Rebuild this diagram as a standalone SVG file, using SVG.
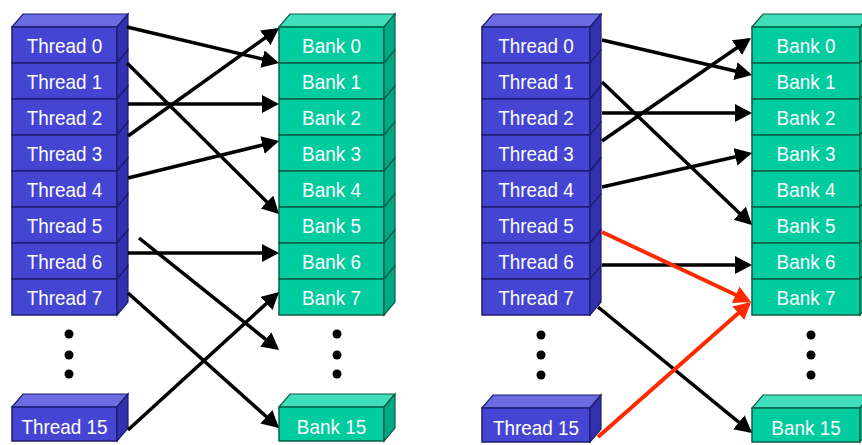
<svg xmlns="http://www.w3.org/2000/svg" width="862" height="445" viewBox="0 0 862 445">
<style>
.tf{fill:#4545D4;stroke:#1c1c6e;stroke-width:1.5}
.ts{fill:#3232AE;stroke:#1c1c6e;stroke-width:1.2}
.tt{fill:#6C6CE2;stroke:#1c1c6e;stroke-width:1.2}
.bf{fill:#00CCA0;stroke:#0a5e48;stroke-width:1.5}
.bs{fill:#00A883;stroke:#0a5e48;stroke-width:1.2}
.bt{fill:#40DEBB;stroke:#0a5e48;stroke-width:1.2}
.lbl{fill:#ffffff;font-family:"Liberation Sans",Arial,sans-serif;font-size:21px;text-anchor:middle}
.dot{fill:#000000}
.ln{stroke:#000000;stroke-width:3.5;fill:none;marker-end:url(#ah)}
.rl{stroke:#FF2A00;stroke-width:4;fill:none;marker-end:url(#ahr)}
</style>
<defs>
<marker id="ah" markerUnits="userSpaceOnUse" markerWidth="20" markerHeight="20" refX="14" refY="9" orient="auto"><path d="M0,0 L17,9 L0,18 z" fill="#000000"/></marker>
<marker id="ahr" markerUnits="userSpaceOnUse" markerWidth="20" markerHeight="20" refX="14" refY="9" orient="auto"><path d="M0,0 L17,9 L0,18 z" fill="#FF2A00"/></marker>
</defs>
<rect width="862" height="445" fill="#ffffff"/>

<!-- Left threads -->
<g id="thread-0"><polygon class="tt" points="12,27 23,14 128,14 117,27"/><rect class="tf" x="12" y="27" width="105" height="36"/><polygon class="ts" points="117,27 128,14 128,50 117,63"/><text class="lbl" transform="translate(64.5,52.5) scale(0.9,1)">Thread 0</text></g>
<g id="thread-1"><rect class="tf" x="12" y="63" width="105" height="36"/><polygon class="ts" points="117,63 128,50 128,86 117,99"/><text class="lbl" transform="translate(64.5,88.5) scale(0.9,1)">Thread 1</text></g>
<g id="thread-2"><rect class="tf" x="12" y="99" width="105" height="36"/><polygon class="ts" points="117,99 128,86 128,122 117,135"/><text class="lbl" transform="translate(64.5,124.5) scale(0.9,1)">Thread 2</text></g>
<g id="thread-3"><rect class="tf" x="12" y="135" width="105" height="36"/><polygon class="ts" points="117,135 128,122 128,158 117,171"/><text class="lbl" transform="translate(64.5,160.5) scale(0.9,1)">Thread 3</text></g>
<g id="thread-4"><rect class="tf" x="12" y="171" width="105" height="36"/><polygon class="ts" points="117,171 128,158 128,194 117,207"/><text class="lbl" transform="translate(64.5,196.5) scale(0.9,1)">Thread 4</text></g>
<g id="thread-5"><rect class="tf" x="12" y="207" width="105" height="36"/><polygon class="ts" points="117,207 128,194 128,230 117,243"/><text class="lbl" transform="translate(64.5,232.5) scale(0.9,1)">Thread 5</text></g>
<g id="thread-6"><rect class="tf" x="12" y="243" width="105" height="36"/><polygon class="ts" points="117,243 128,230 128,266 117,279"/><text class="lbl" transform="translate(64.5,268.5) scale(0.9,1)">Thread 6</text></g>
<g id="thread-7"><rect class="tf" x="12" y="279" width="105" height="36"/><polygon class="ts" points="117,279 128,266 128,302 117,315"/><text class="lbl" transform="translate(64.5,304.5) scale(0.9,1)">Thread 7</text></g>
<g id="thread-dots"><circle class="dot" cx="69" cy="334" r="4.5"/><circle class="dot" cx="69" cy="355" r="4.5"/><circle class="dot" cx="69" cy="374" r="4.5"/></g>
<g id="thread-15"><polygon class="tt" points="12,407 23,394 128,394 117,407"/><rect class="tf" x="12" y="407" width="105" height="34"/><polygon class="ts" points="117,407 128,394 128,428 117,441"/><text class="lbl" transform="translate(64.5,434) scale(0.9,1)">Thread 15</text></g>

<!-- Left banks -->
<g id="bank-0"><polygon class="bt" points="279,27 290,14 395,14 384,27"/><rect class="bf" x="279" y="27" width="105" height="36"/><polygon class="bs" points="384,27 395,14 395,50 384,63"/><text class="lbl" transform="translate(331.5,52.5) scale(0.9,1)">Bank 0</text></g>
<g id="bank-1"><rect class="bf" x="279" y="63" width="105" height="36"/><polygon class="bs" points="384,63 395,50 395,86 384,99"/><text class="lbl" transform="translate(331.5,88.5) scale(0.9,1)">Bank 1</text></g>
<g id="bank-2"><rect class="bf" x="279" y="99" width="105" height="36"/><polygon class="bs" points="384,99 395,86 395,122 384,135"/><text class="lbl" transform="translate(331.5,124.5) scale(0.9,1)">Bank 2</text></g>
<g id="bank-3"><rect class="bf" x="279" y="135" width="105" height="36"/><polygon class="bs" points="384,135 395,122 395,158 384,171"/><text class="lbl" transform="translate(331.5,160.5) scale(0.9,1)">Bank 3</text></g>
<g id="bank-4"><rect class="bf" x="279" y="171" width="105" height="36"/><polygon class="bs" points="384,171 395,158 395,194 384,207"/><text class="lbl" transform="translate(331.5,196.5) scale(0.9,1)">Bank 4</text></g>
<g id="bank-5"><rect class="bf" x="279" y="207" width="105" height="36"/><polygon class="bs" points="384,207 395,194 395,230 384,243"/><text class="lbl" transform="translate(331.5,232.5) scale(0.9,1)">Bank 5</text></g>
<g id="bank-6"><rect class="bf" x="279" y="243" width="105" height="36"/><polygon class="bs" points="384,243 395,230 395,266 384,279"/><text class="lbl" transform="translate(331.5,268.5) scale(0.9,1)">Bank 6</text></g>
<g id="bank-7"><rect class="bf" x="279" y="279" width="105" height="36"/><polygon class="bs" points="384,279 395,266 395,302 384,315"/><text class="lbl" transform="translate(331.5,304.5) scale(0.9,1)">Bank 7</text></g>
<g id="bank-dots"><circle class="dot" cx="337" cy="334" r="4.5"/><circle class="dot" cx="337" cy="355" r="4.5"/><circle class="dot" cx="337" cy="374" r="4.5"/></g>
<g id="bank-15"><polygon class="bt" points="279,407 290,394 395,394 384,407"/><rect class="bf" x="279" y="407" width="105" height="34"/><polygon class="bs" points="384,407 395,394 395,428 384,441"/><text class="lbl" transform="translate(331.5,434) scale(0.9,1)">Bank 15</text></g>

<!-- Right threads -->
<g id="r-thread-0"><polygon class="tt" points="482,27 493,14 601,14 590,27"/><rect class="tf" x="482" y="27" width="108" height="36"/><polygon class="ts" points="590,27 601,14 601,50 590,63"/><text class="lbl" transform="translate(536,52.5) scale(0.9,1)">Thread 0</text></g>
<g id="r-thread-1"><rect class="tf" x="482" y="63" width="108" height="36"/><polygon class="ts" points="590,63 601,50 601,86 590,99"/><text class="lbl" transform="translate(536,88.5) scale(0.9,1)">Thread 1</text></g>
<g id="r-thread-2"><rect class="tf" x="482" y="99" width="108" height="36"/><polygon class="ts" points="590,99 601,86 601,122 590,135"/><text class="lbl" transform="translate(536,124.5) scale(0.9,1)">Thread 2</text></g>
<g id="r-thread-3"><rect class="tf" x="482" y="135" width="108" height="36"/><polygon class="ts" points="590,135 601,122 601,158 590,171"/><text class="lbl" transform="translate(536,160.5) scale(0.9,1)">Thread 3</text></g>
<g id="r-thread-4"><rect class="tf" x="482" y="171" width="108" height="36"/><polygon class="ts" points="590,171 601,158 601,194 590,207"/><text class="lbl" transform="translate(536,196.5) scale(0.9,1)">Thread 4</text></g>
<g id="r-thread-5"><rect class="tf" x="482" y="207" width="108" height="36"/><polygon class="ts" points="590,207 601,194 601,230 590,243"/><text class="lbl" transform="translate(536,232.5) scale(0.9,1)">Thread 5</text></g>
<g id="r-thread-6"><rect class="tf" x="482" y="243" width="108" height="36"/><polygon class="ts" points="590,243 601,230 601,266 590,279"/><text class="lbl" transform="translate(536,268.5) scale(0.9,1)">Thread 6</text></g>
<g id="r-thread-7"><rect class="tf" x="482" y="279" width="108" height="36"/><polygon class="ts" points="590,279 601,266 601,302 590,315"/><text class="lbl" transform="translate(536,304.5) scale(0.9,1)">Thread 7</text></g>
<g id="r-thread-dots"><circle class="dot" cx="541" cy="335" r="4.5"/><circle class="dot" cx="541" cy="355" r="4.5"/><circle class="dot" cx="541" cy="375" r="4.5"/></g>
<g id="r-thread-15"><polygon class="tt" points="482,408 493,395 601,395 590,408"/><rect class="tf" x="482" y="408" width="108" height="34"/><polygon class="ts" points="590,408 601,395 601,429 590,442"/><text class="lbl" transform="translate(536,435) scale(0.9,1)">Thread 15</text></g>

<!-- Right banks -->
<g id="r-bank-0"><polygon class="bt" points="752,27 763,14 871,14 860,27"/><rect class="bf" x="752" y="27" width="108" height="36"/><polygon class="bs" points="860,27 871,14 871,50 860,63"/><text class="lbl" transform="translate(806,52.5) scale(0.9,1)">Bank 0</text></g>
<g id="r-bank-1"><rect class="bf" x="752" y="63" width="108" height="36"/><polygon class="bs" points="860,63 871,50 871,86 860,99"/><text class="lbl" transform="translate(806,88.5) scale(0.9,1)">Bank 1</text></g>
<g id="r-bank-2"><rect class="bf" x="752" y="99" width="108" height="36"/><polygon class="bs" points="860,99 871,86 871,122 860,135"/><text class="lbl" transform="translate(806,124.5) scale(0.9,1)">Bank 2</text></g>
<g id="r-bank-3"><rect class="bf" x="752" y="135" width="108" height="36"/><polygon class="bs" points="860,135 871,122 871,158 860,171"/><text class="lbl" transform="translate(806,160.5) scale(0.9,1)">Bank 3</text></g>
<g id="r-bank-4"><rect class="bf" x="752" y="171" width="108" height="36"/><polygon class="bs" points="860,171 871,158 871,194 860,207"/><text class="lbl" transform="translate(806,196.5) scale(0.9,1)">Bank 4</text></g>
<g id="r-bank-5"><rect class="bf" x="752" y="207" width="108" height="36"/><polygon class="bs" points="860,207 871,194 871,230 860,243"/><text class="lbl" transform="translate(806,232.5) scale(0.9,1)">Bank 5</text></g>
<g id="r-bank-6"><rect class="bf" x="752" y="243" width="108" height="36"/><polygon class="bs" points="860,243 871,230 871,266 860,279"/><text class="lbl" transform="translate(806,268.5) scale(0.9,1)">Bank 6</text></g>
<g id="r-bank-7"><rect class="bf" x="752" y="279" width="108" height="36"/><polygon class="bs" points="860,279 871,266 871,302 860,315"/><text class="lbl" transform="translate(806,304.5) scale(0.9,1)">Bank 7</text></g>
<g id="r-bank-dots"><circle class="dot" cx="811" cy="335" r="4.5"/><circle class="dot" cx="811" cy="355" r="4.5"/><circle class="dot" cx="811" cy="375" r="4.5"/></g>
<g id="r-bank-15"><polygon class="bt" points="752,408 763,395 871,395 860,408"/><rect class="bf" x="752" y="408" width="108" height="34"/><polygon class="bs" points="860,408 871,395 871,429 860,442"/><text class="lbl" transform="translate(806,435) scale(0.9,1)">Bank 15</text></g>

<!-- Connectors -->
<g id="connectors">
<line class="ln" x1="127" y1="27" x2="276.1" y2="62.3"/>
<line class="ln" x1="127" y1="63" x2="276.9" y2="211.9"/>
<line class="ln" x1="128" y1="104" x2="276" y2="104"/>
<line class="ln" x1="128" y1="136" x2="276.6" y2="29.7"/>
<line class="ln" x1="128" y1="178" x2="276.1" y2="141.7"/>
<line class="ln" x1="139" y1="238" x2="276.7" y2="348.1"/>
<line class="ln" x1="128" y1="253" x2="276" y2="253"/>
<line class="ln" x1="128" y1="293" x2="276.8" y2="426"/>
<line class="ln" x1="128" y1="430" x2="276.8" y2="294"/>

<line class="ln" x1="602" y1="40" x2="749.1" y2="74.3"/>
<line class="ln" x1="602" y1="82" x2="749.8" y2="222.9"/>
<line class="ln" x1="602" y1="113" x2="749" y2="113"/>
<line class="ln" x1="602" y1="141" x2="748.5" y2="39.7"/>
<line class="ln" x1="602" y1="187" x2="749.1" y2="153.7"/>
<line class="ln" x1="602" y1="265" x2="749" y2="265"/>
<line class="ln" x1="598" y1="307" x2="749.7" y2="431.1"/>
<line class="rl" x1="602" y1="232" x2="748.3" y2="300.7"/>
<line class="rl" x1="598" y1="437" x2="748.8" y2="304"/>
</g>
</svg>
